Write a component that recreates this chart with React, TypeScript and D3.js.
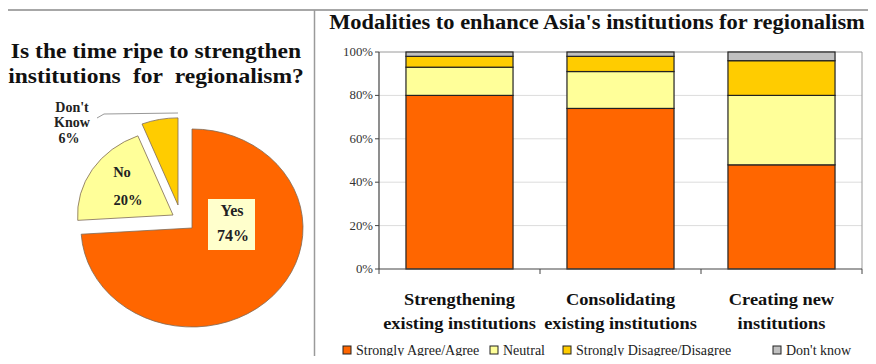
import React from "react";
import * as d3 from "d3";

// ---- Data ----
const pieLabels = ["Yes", "No", "Don't Know"];
const pieValues = [74, 20, 6];

const barCategories = ["Strengthening existing institutions", "Consolidating existing institutions", "Creating new institutions"];
const barCategoryLines = [["Strengthening", "existing institutions"], ["Consolidating", "existing institutions"], ["Creating new", "institutions"]];
const seriesNames = ["Strongly Agree/Agree", "Neutral", "Strongly Disagree/Disagree", "Don't know"];
const agreeValues = [80, 74, 48];
const neutralValues = [13, 17, 32];
const disagreeValues = [5, 7, 16];
const dontKnowValues = [2, 2, 4];
const yTicks = [0, 20, 40, 60, 80, 100];
const yTickLabels = ["0%", "20%", "40%", "60%", "80%", "100%"];

// ---- Style ----
const SERIF = "Liberation Serif";
const seriesColors = ["#FF6600", "#FFFF99", "#FFCC00", "#C0C0C0"];
const pieColors = ["#FF6600", "#FFFF99", "#FFCC00"];
const pieExplode: Record<string, [number, number, number]> = {
  Yes: [0, 0, 1],
  No: [-19, -13, 0.86],
  "Don't Know": [-14, -23, 0.88],
};

function T(props: any) {
  const { children, style, ...rest } = props;
  return (
    <text fontFamily={SERIF} style={{ fontFamily: SERIF, ...(style || {}) }} {...rest}>
      {children}
    </text>
  );
}

// horizontally stretched text (reference image is slightly widened)
function ST(props: any) {
  const { x, y, sx, children, ...rest } = props;
  return (
    <g transform={`translate(${x},${y}) scale(${sx},1)`}>
      <T x={0} y={0} {...rest}>
        {children}
      </T>
    </g>
  );
}

export default function App() {
  const W = 876, H = 364;

  // pie geometry
  const cx = 192, cy = 228, rx = 111, ry = 99, R = 100;
  const pie = d3.pie<number>().sort(null).value((d) => d)(pieValues);
  const arc = d3.arc<d3.PieArcDatum<number>>().innerRadius(0).outerRadius(R);

  // bar geometry
  const x0 = 379, x1 = 862, yTop = 52, yBot = 269;
  const x = d3.scaleBand<string>().domain(barCategories).range([x0, x1]).paddingInner(0.335).paddingOuter(0.1675);
  const y = d3.scaleLinear().domain([0, 100]).range([yBot, yTop]);
  const rows = barCategories.map((c, i) => ({
    cat: c,
    s0: agreeValues[i],
    s1: neutralValues[i],
    s2: disagreeValues[i],
    s3: dontKnowValues[i],
  }));
  const stacked = d3.stack<any>().keys(["s0", "s1", "s2", "s3"])(rows);
  const step = x.step();
  const boundaries = d3.range(barCategories.length + 1).map((i) => x0 + i * step);

  const legendX = [343, 490, 563, 773];

  return (
    <svg width={W} height={H} style={{ display: "block", margin: "-8px", background: "#fff" }}>
      <rect x={0} y={0} width={W} height={H} fill="#fff" />
      {/* frame lines */}
      <line x1={7} y1={10} x2={W} y2={10} stroke="#8a8a8a" strokeWidth={1.5} />
      <line x1={7} y1={10} x2={7} y2={H} stroke="#8a8a8a" strokeWidth={1.5} />
      <line x1={314.5} y1={10} x2={314.5} y2={H} stroke="#9a9a9a" strokeWidth={1.5} />

      {/* left title */}
      <ST x={156} y={58} sx={1.07} textAnchor="middle" fontSize={22} fontWeight="bold" fill="#111">
        Is the time ripe to strengthen
      </ST>
      <ST x={156} y={83} sx={1.07} textAnchor="middle" fontSize={22} fontWeight="bold" fill="#111" wordSpacing={6}>
        institutions for regionalism?
      </ST>

      {/* pie */}
      {pie.map((p, i) => {
        const off = pieExplode[pieLabels[i]];
        const s = off[2];
        return (
          <path
            key={i}
            d={arc(p) || ""}
            transform={`translate(${cx + off[0]},${cy + off[1]}) scale(${(rx / R) * s},${(ry / R) * s})`}
            fill={pieColors[i]}
            stroke="#7d6a55"
            strokeWidth={0.8}
            vectorEffect="non-scaling-stroke"
          />
        );
      })}
      {/* leader line for Don't Know */}
      <polyline points="97,118 104,114 178,113" fill="none" stroke="#999" strokeWidth={1} />
      <T textAnchor="middle" fontSize={14} fontWeight="bold" fill="#222">
        <tspan x={72} y={112}>Don't</tspan>
        <tspan x={72} y={127}>Know</tspan>
        <tspan x={69} y={143}>6%</tspan>
      </T>
      <T textAnchor="middle" fontSize={14.5} fontWeight="bold" fill="#222">
        <tspan x={122} y={177}>No</tspan>
        <tspan x={128} y={205}>{`${pieValues[1]}%`}</tspan>
      </T>
      <rect x={208} y={199} width={47} height={51} fill="#FFFFCC" />
      <T textAnchor="middle" fontSize={16} fontWeight="bold" fill="#222">
        <tspan x={232} y={216}>Yes</tspan>
        <tspan x={233} y={241}>{`${pieValues[0]}%`}</tspan>
      </T>

      {/* right title */}
      <ST x={597} y={29} sx={1.07} textAnchor="middle" fontSize={21} fontWeight="bold" fill="#111">
        Modalities to enhance Asia's institutions for regionalism
      </ST>

      {/* gridlines */}
      {yTicks.filter((t) => t > 0 && t < 100).map((t) => (
        <line key={t} x1={x0} x2={x1} y1={y(t)} y2={y(t)} stroke="#dcdcdc" strokeWidth={1} />
      ))}
      <line x1={x0} x2={x1} y1={y(100)} y2={y(100)} stroke="#9a9a9a" strokeWidth={1} />
      <line x1={x1} x2={x1} y1={y(100)} y2={yBot} stroke="#9a9a9a" strokeWidth={1} />

      {/* bars */}
      {stacked.map((layer, li) => (
        <g key={li}>
          {layer.map((d: any, i: number) => (
            <rect
              key={i}
              x={x(barCategories[i])}
              width={x.bandwidth()}
              y={y(d[1])}
              height={y(d[0]) - y(d[1])}
              fill={seriesColors[li]}
              stroke="#222"
              strokeWidth={1.2}
            />
          ))}
        </g>
      ))}

      {/* axes */}
      <line x1={x0} x2={x0} y1={yTop} y2={yBot} stroke="#444" strokeWidth={1.2} />
      <line x1={x0} x2={x1} y1={yBot} y2={yBot} stroke="#444" strokeWidth={1.2} />
      {yTicks.map((t, i) => (
        <g key={t}>
          <line x1={x0 - 4} x2={x0} y1={y(t)} y2={y(t)} stroke="#444" />
          <ST x={x0 - 6} y={y(t) + 4} sx={1.07} textAnchor="end" fontSize={12} fill="#333">
            {yTickLabels[i]}
          </ST>
        </g>
      ))}
      {boundaries.map((b, i) => (
        <line key={i} x1={b} x2={b} y1={yBot} y2={yBot + 5} stroke="#444" />
      ))}
      {barCategoryLines.map((lines, i) => {
        const c = (x(barCategories[i]) as number) + x.bandwidth() / 2;
        return (
          <g key={i}>
            <ST x={c} y={305} sx={1.05} textAnchor="middle" fontSize={17.5} fontWeight="bold" fill="#111">
              {lines[0]}
            </ST>
            <ST x={c} y={329} sx={1.05} textAnchor="middle" fontSize={17.5} fontWeight="bold" fill="#111">
              {lines[1]}
            </ST>
          </g>
        );
      })}

      {/* legend */}
      {seriesNames.map((n, i) => (
        <g key={n}>
          <rect x={legendX[i]} y={346} width={8} height={8} fill={seriesColors[i]} stroke="#222" strokeWidth={1} />
          <T x={legendX[i] + 13} y={355} fontSize={14} fill="#222">
            {n}
          </T>
        </g>
      ))}
    </svg>
  );
}
